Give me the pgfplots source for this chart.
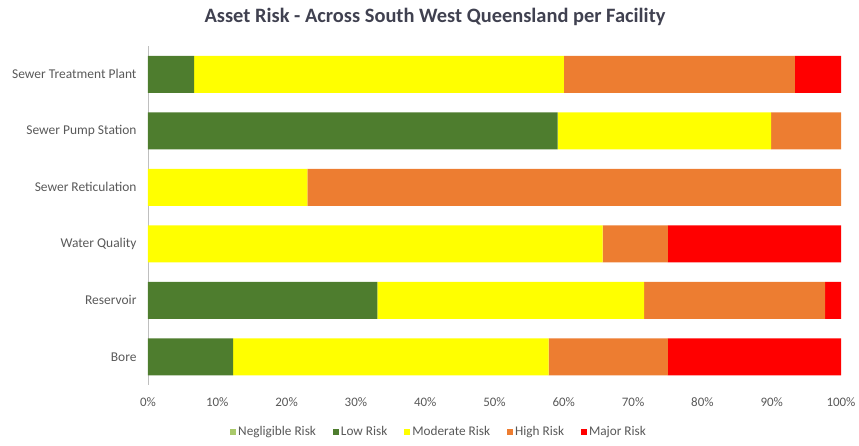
\documentclass[border=0pt]{standalone}
\usepackage{pgfplots}
\pgfplotsset{compat=1.18}
\usepackage{pgfplotstable}
\usepackage{fontspec}
\setmainfont{Carlito}
\definecolor{negl}{HTML}{A9C96A}
\definecolor{low}{HTML}{4E7D2E}
\definecolor{mod}{HTML}{FFFF00}
\definecolor{high}{HTML}{ED7D31}
\definecolor{major}{HTML}{FF0000}
\definecolor{txt}{HTML}{595959}
\definecolor{ttl}{HTML}{404150}
\pgfplotstableread{
y neg low mod high major
0 0 6.67 53.33 33.33 6.67
1 0 59.1 30.8 10.1 0
2 0 0 23.0 77.0 0
3 0 0 65.6 9.4 25.0
4 0 33.1 38.5 26.1 2.3
5 0 12.3 45.5 17.2 25.0
}\risk
\begin{document}
\begin{tikzpicture}
\begin{axis}[
  scale only axis, width=693bp, height=339bp,
  xbar stacked, bar width=37bp,
  xmin=0, xmax=100, ymin=-0.5, ymax=5.5, y dir=reverse,
  axis lines*=left,
  x axis line style={draw=none},
  y axis line style={draw=black!25, line width=0.8pt},
  major tick length=0pt,
  xtick={0,10,...,100},
  xticklabel={\pgfmathprintnumber{\tick}\%},
  ytick={0,...,5},
  yticklabels={Sewer Treatment Plant,Sewer Pump Station,Sewer Reticulation,Water Quality,Reservoir,Bore},
  /pgf/number format/assume math mode=true,
  tick label style={text=txt},
  yticklabel style={font=\fontsize{13.5}{15}\selectfont, xshift=-8bp},
  xticklabel style={font=\fontsize{13}{15}\selectfont, yshift=-9bp},
  legend columns=5,
  legend style={draw=none, at={(0.42,-0.139)}, anchor=center,
    font=\fontsize{13.3}{15}\selectfont, text=txt,
    /tikz/every even column/.append style={column sep=15bp}},
  legend image code/.code={\fill[#1] (0bp,-3bp) rectangle (6bp,3bp);},
]
\addplot[fill=negl, draw=none] table[x=neg, y=y] {\risk};
\addplot[fill=low, draw=none] table[x=low, y=y] {\risk};
\addplot[fill=mod, draw=none] table[x=mod, y=y] {\risk};
\addplot[fill=high, draw=none] table[x=high, y=y] {\risk};
\addplot[fill=major, draw=none] table[x=major, y=y] {\risk};
\legend{Negligible Risk, Low Risk, Moderate Risk, High Risk, Major Risk}
\end{axis}
\node[font=\fontsize{20.5}{24}\selectfont\bfseries, text=ttl] at (287bp,368bp) {Asset Risk - Across South West Queensland per Facility};
\pgfresetboundingbox
\path[use as bounding box] (-148bp,-61bp) rectangle (711bp,385bp);
\end{tikzpicture}
\end{document}
